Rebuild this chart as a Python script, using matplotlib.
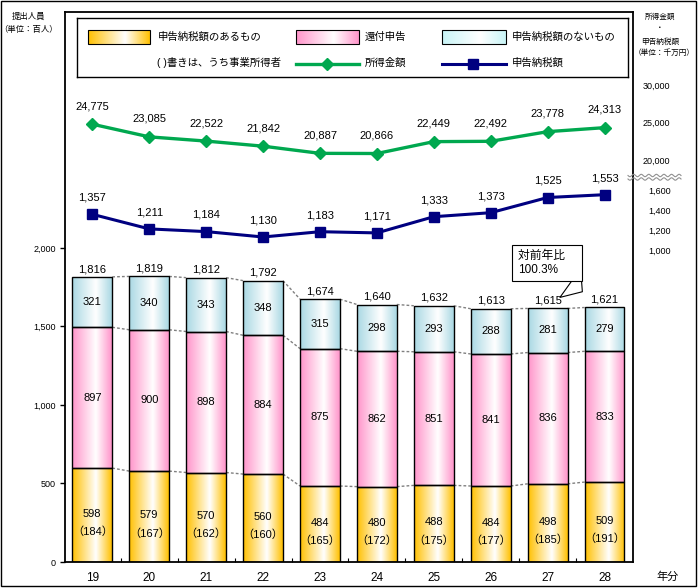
import numpy as np
import matplotlib
matplotlib.use('Agg')
import matplotlib.pyplot as plt
from matplotlib.colors import LinearSegmentedColormap
from matplotlib.patches import Rectangle
from matplotlib.lines import Line2D
from matplotlib.ticker import FuncFormatter

plt.rcParams['font.family'] = ['Liberation Sans', 'Noto Sans CJK JP']

# data (提出人員: 百人, 金額: 千万円)
years = ['19', '20', '21', '22', '23', '24', '25', '26', '27', '28']
with_tax = [598, 579, 570, 560, 484, 480, 488, 484, 498, 509]
business = [184, 167, 162, 160, 165, 172, 175, 177, 185, 191]
refund = [897, 900, 898, 884, 875, 862, 851, 841, 836, 833]
no_tax = [321, 340, 343, 348, 315, 298, 293, 288, 281, 279]
totals = [1816, 1819, 1812, 1792, 1674, 1640, 1632, 1613, 1615, 1621]
income = [24775, 23085, 22522, 21842, 20887, 20866, 22449, 22492, 23778, 24313]
tax_amount = [1357, 1211, 1184, 1130, 1183, 1171, 1333, 1373, 1525, 1553]

W, H = 700, 588


def fx(v):
    return v / W


def fy(v):
    return 1 - v / H


orange = '#FFC000'
pink = '#FF94CA'
cyan = '#A9D8E3'
green = '#00A84F'
navy = '#000080'


def grad_cmap(c, mid=0.6):
    return LinearSegmentedColormap.from_list('g', [(0, c), (mid, 'white'), (1, c)])


grad = np.linspace(0, 1, 256).reshape(1, -1)

fig = plt.figure(figsize=(7, 5.88), dpi=100)
ax = fig.add_axes([fx(65), fy(562), (633 - 65) / W, (562 - 12) / H])

x = np.arange(len(years))
bw = 0.7
xlim = (-0.48, 9.5)
ylim = (0, 3503)

lvl1 = np.array(with_tax)
lvl2 = lvl1 + np.array(refund)
lvl3 = lvl2 + np.array(no_tax)

for vals, bot, col in [(with_tax, 0, orange), (refund, lvl1, pink), (no_tax, lvl2, cyan)]:
    bars = ax.bar(x, vals, bw, bottom=bot, facecolor='none', edgecolor='black', lw=1, zorder=3)
    cm = grad_cmap(col)
    for r in bars:
        im = ax.imshow(grad, extent=(r.get_x(), r.get_x() + r.get_width(),
                                     r.get_y(), r.get_y() + r.get_height()),
                       cmap=cm, aspect='auto', interpolation='bicubic', zorder=2)
        im.set_clip_path(r)

# dotted connectors between bars
for lev in [lvl1, lvl2, lvl3]:
    for i in range(len(x) - 1):
        ax.plot([x[i] + bw / 2, x[i + 1] - bw / 2], [lev[i], lev[i + 1]],
                color='#808080', lw=1, ls=(0, (2, 1.5)), zorder=1)

# labels in bars
for i in range(len(x)):
    ax.annotate(f'{with_tax[i]}', (x[i], with_tax[i] / 2), xytext=(0, 1),
                textcoords='offset points', ha='center', va='center', fontsize=8, zorder=5)
    ax.annotate(f'（{business[i]}）', (x[i], with_tax[i] / 2), xytext=(0, -12),
                textcoords='offset points', ha='center', va='center', fontsize=8, zorder=5)
    ax.text(x[i], lvl1[i] + refund[i] / 2, f'{refund[i]}', ha='center', va='center',
            fontsize=8, zorder=5)
    ax.text(x[i], lvl2[i] + no_tax[i] / 2, f'{no_tax[i]}', ha='center', va='center',
            fontsize=8, zorder=5)
    ax.annotate(f'{totals[i]:,}', (x[i], lvl3[i]), xytext=(0, 2),
                textcoords='offset points', ha='center', va='bottom', fontsize=8, zorder=7)

ax.set_xlim(xlim)
ax.set_ylim(ylim)
ax.set_xticks(x)
ax.set_xticklabels(years, fontsize=8.5)
ax.set_xticks(x[:-1] + 0.5, minor=True)
ax.tick_params(axis='x', which='major', length=0, pad=7)
ax.tick_params(axis='x', which='minor', direction='in', length=3, width=0.8)
ax.set_yticks([0, 500, 1000, 1500, 2000])
ax.yaxis.set_major_formatter(FuncFormatter(lambda v, p: f'{int(v):,}'))
ax.tick_params(axis='y', direction='out', length=3.5, width=1, pad=3, labelsize=6.5)
for s in ax.spines.values():
    s.set_linewidth(1.3)

# callout
ax.annotate('対前年比　\n100.3%', xy=(x[-1] - 0.35, totals[-1] + 90), xytext=(-27, 22),
            textcoords='offset points', ha='center', va='center', multialignment='left',
            fontsize=8.5, zorder=6,
            bbox=dict(boxstyle='square,pad=0.45', fc='white', ec='black', lw=0.8),
            arrowprops=dict(arrowstyle='wedge,tail_width=3.0,shrink_factor=0.5',
                            fc='white', ec='black', lw=0.8, relpos=(0.72, 0.0)))

# line series on their own scales
axg = fig.add_axes(ax.get_position())
axb = fig.add_axes(ax.get_position())
for a in (axg, axb):
    a.patch.set_visible(False)
    for s in a.spines.values():
        s.set_visible(False)
    a.set_xlim(xlim)
    a.set_xticks([])
    a.yaxis.tick_right()
    a.tick_params(axis='y', length=0, pad=27, labelsize=6.5)

axg.set_ylim(-33600, 39733)
axg.plot(x, income, color=green, lw=2.4, marker='D', ms=6.5, zorder=4)
for i, v in enumerate(income):
    axg.annotate(f'{v:,}', (x[i], v), xytext=(0, 13), textcoords='offset points',
                 ha='center', va='center', fontsize=8)
axg.set_yticks([20000, 25000, 30000])
axg.yaxis.set_major_formatter(FuncFormatter(lambda v, p: f'{int(v):,}'))
plt.setp(axg.get_yticklabels(), ha='right')

axb.set_ylim(-2120, 3380)
axb.plot(x, tax_amount, color=navy, lw=2.2, marker='s', ms=7.5, zorder=4)
for i, v in enumerate(tax_amount):
    axb.annotate(f'{v:,}', (x[i], v), xytext=(0, 12), textcoords='offset points',
                 ha='center', va='center', fontsize=8)
axb.set_yticks([1000, 1200, 1400, 1600])
axb.yaxis.set_major_formatter(FuncFormatter(lambda v, p: f'{int(v):,}'))
plt.setp(axb.get_yticklabels(), ha='right')

# axis break squiggle
xs = np.linspace(628, 681, 300)
for y0 in (175.5, 179):
    ys = y0 + 1.2 * np.sin((xs - 628) / 53 * 2 * np.pi * 7)
    fig.add_artist(Line2D(fx(xs), fy(ys), color='#909090', lw=0.8))

# legend
lax = fig.add_axes([fx(77), fy(77), (628 - 77) / W, (77 - 18) / H])
for x0, x1, col in [(88, 150, orange), (296, 359, pink), (442, 506, '#C8F4F6')]:
    lax.imshow(grad, extent=(x0, x1, 44, 30), cmap=grad_cmap(col), aspect='auto',
               interpolation='bicubic')
    lax.add_patch(Rectangle((x0, 30), x1 - x0, 14, fill=False, ec='black', lw=0.8))
lax.plot([296, 359], [63.5, 63.5], color=green, lw=2.4)
lax.plot([327], [63.5], color=green, marker='D', ms=6.5)
lax.plot([442, 506], [63.5, 63.5], color=navy, lw=2.2)
lax.plot([473], [63.5], color=navy, marker='s', ms=7.5)
lax.text(158, 37, '申告納税額のあるもの', va='center', fontsize=7.5)
lax.text(365, 37, '還付申告', va='center', fontsize=7.5)
lax.text(512, 37, '申告納税額のないもの', va='center', fontsize=7.5)
lax.text(157, 63, '( )書きは、うち事業所得者', va='center', fontsize=7.5)
lax.text(365, 63, '所得金額', va='center', fontsize=7.5)
lax.text(512, 63, '申告納税額', va='center', fontsize=7.5)
lax.set_xlim(77, 628)
lax.set_ylim(77, 18)
lax.set_xticks([])
lax.set_yticks([])
for s in lax.spines.values():
    s.set_linewidth(1)

# side texts
fig.text(fx(29), fy(17), '提出人員', ha='center', va='center', fontsize=6)
fig.text(fx(29), fy(30), '（単位：百人）', ha='center', va='center', fontsize=6)
fig.text(fx(660), fy(17), '所得金額', ha='center', va='center', fontsize=5.5)
fig.text(fx(660), fy(29), '・', ha='center', va='center', fontsize=5.5)
fig.text(fx(660), fy(42), '申告納税額', ha='center', va='center', fontsize=5.5)
fig.text(fx(664), fy(53), '（単位：千万円）', ha='center', va='center', fontsize=5.5)
fig.text(fx(668), fy(577), '年分', ha='center', va='center', fontsize=8)

fig.add_artist(Rectangle((fx(1), fy(586)), 695 / W, 585 / H, transform=fig.transFigure,
                         fill=False, ec='black', lw=1))

fig.savefig('out.png', dpi=100)
